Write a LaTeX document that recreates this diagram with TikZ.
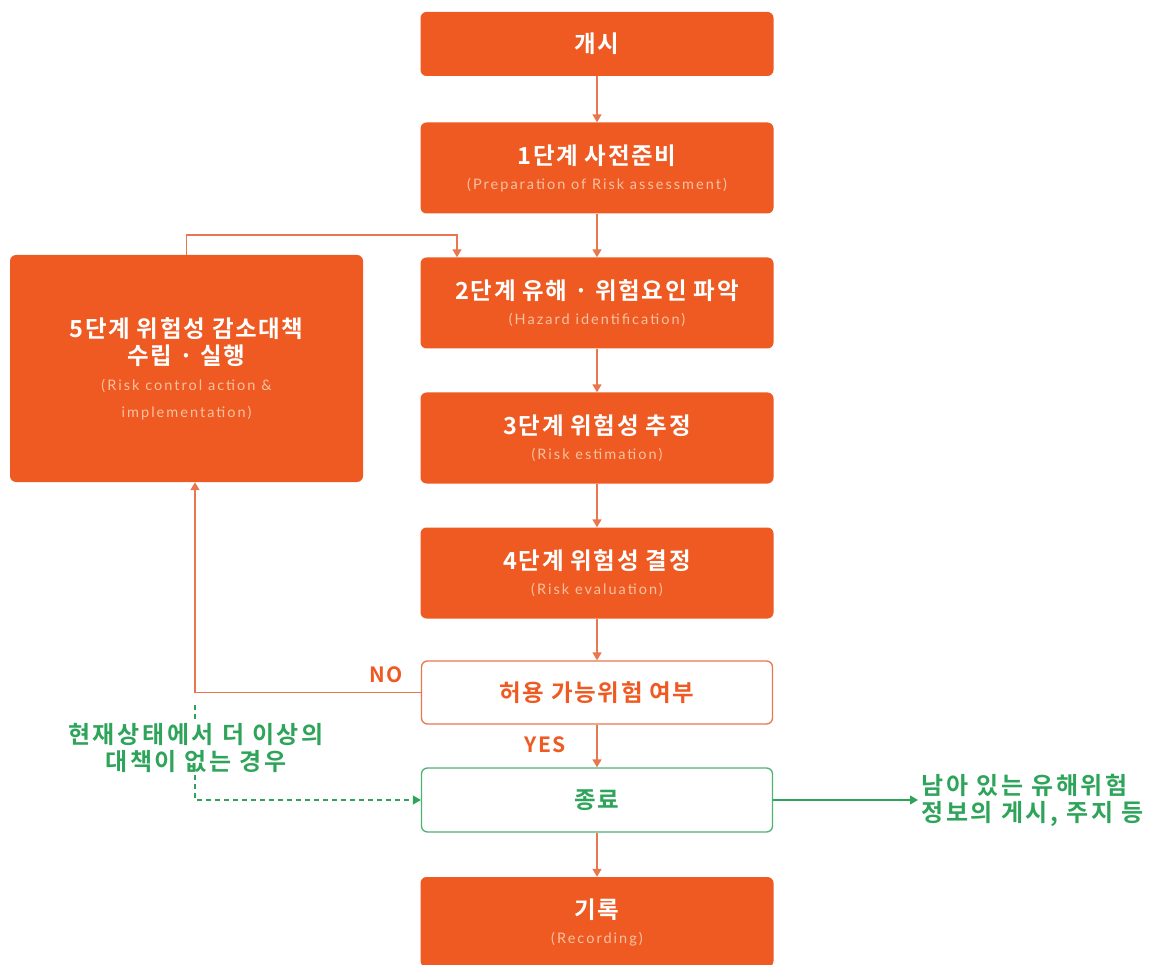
\documentclass[tikz,border=0pt]{standalone}
\usepackage{fontspec}
\setmainfont{Noto Sans CJK KR}
\newfontfamily\kob[LetterSpace=7]{Noto Sans CJK KR Bold}
\newfontfamily\kog[LetterSpace=11]{Noto Sans CJK KR Bold}
\newfontfamily\en[LetterSpace=14]{Lato}
\usetikzlibrary{arrows.meta,calc}
\definecolor{org}{HTML}{EE5A22}
\definecolor{orgline}{HTML}{E8774E}
\definecolor{peach}{HTML}{F8C2A2}
\definecolor{grn}{HTML}{2EA45A}
\tikzset{
  fbox/.style={rounded corners=6pt, fill=org, draw=none, minimum width=353pt, text=white, align=center, inner sep=0pt, font=\kob\fontsize{23.5}{28}\selectfont},
  obox/.style={rounded corners=6pt, fill=white, draw=orgline, line width=1.3pt, minimum width=351pt, text=org, align=center, inner sep=0pt, font=\kob\fontsize{23.5}{28}\selectfont},
  gbox/.style={rounded corners=6pt, fill=white, draw=grn!85, line width=1.3pt, minimum width=351pt, text=grn, align=center, inner sep=0pt, font=\kob\fontsize{23.5}{28}\selectfont},
  oarrow/.style={draw=orgline, line width=1.6pt, -{Triangle[width=9pt,length=8pt]}},
  garrow/.style={draw=grn, line width=1.3pt, -{Triangle[width=9pt,length=8pt]}},
  gdash/.style={draw=grn, line width=1.3pt, dash pattern=on 5pt off 4pt},
  lbl/.style={text=org, font=\kob\fontsize{21}{24}\selectfont},
  gtext/.style={text=grn, font=\kog\fontsize{24}{27}\selectfont},
}
\newcommand{\sub}[1]{{\en\fontsize{14.5}{28}\selectfont\color{peach}#1}}
\begin{document}
\begin{tikzpicture}[x=1pt,y=1pt]
\useasboundingbox (0,0) rectangle (1162,-965);
\node[fbox, minimum height=64pt] (start) at (597,-44) {개시};
\node[fbox, minimum height=91pt] (s1) at (597,-168) {1단계 사전준비\\[-3pt]\sub{(Preparation of Risk assessment)}};
\node[fbox, minimum height=91pt] (s2) at (597,-303) {2단계 유해 · 위험요인 파악\\[-3pt]\sub{(Hazard identification)}};
\node[fbox, minimum height=91pt] (s3) at (597,-438) {3단계 위험성 추정\\[-3pt]\sub{(Risk estimation)}};
\node[fbox, minimum height=91pt] (s4) at (597,-573) {4단계 위험성 결정\\[-3pt]\sub{(Risk evaluation)}};
\node[obox, minimum height=63pt] (ok) at (597,-692.5) {허용 가능위험 여부};
\node[gbox, minimum height=64pt] (end) at (597,-800) {종료};
\node[fbox, minimum height=90pt] (rec) at (597,-922) {기록\\[-3pt]\sub{(Recording)}};
\node[fbox, minimum height=227pt] (s5) at (186.5,-368.5) {5단계 위험성 감소대책\\[-1pt]수립 · 실행\\[-2pt]\sub{(Risk control action \&}\\[-1pt]\sub{implementation)}};

\draw[oarrow] (start) -- (s1);
\draw[oarrow] (s1) -- (s2);
\draw[oarrow] (s2) -- (s3);
\draw[oarrow] (s3) -- (s4);
\draw[oarrow] (s4) -- (ok);
\draw[oarrow] (ok) -- (end);
\draw[oarrow] (end) -- (rec);

\coordinate (fb) at (457,-235);
\draw[oarrow] (s5.north) |- (fb) -- (fb |- s2.north);

\coordinate (nc) at (195,-692.5);
\draw[oarrow] (ok.west) -- (nc) -- (nc |- s5.south);

\node[lbl] (no) at (386,-675) {NO};
\node[lbl] (yes) at (545,-745) {YES};

\node[gtext, align=center, inner sep=2pt] (cond) at (196,-748) {현재상태에서 더 이상의\\대책이 없는 경우};
\coordinate (dtop) at (195,-705);
\draw[gdash] (dtop) -- (dtop |- cond.north);
\draw[gdash, -{Triangle[width=9pt,length=8pt]}] (dtop |- cond.south) |- (end.west);

\node[gtext, align=left, anchor=west] (info) at (918,-800) {남아 있는 유해위험\\정보의 게시, 주지 등};
\draw[garrow] (end.east) -- (end.east -| info.west);
\end{tikzpicture}
\end{document}
